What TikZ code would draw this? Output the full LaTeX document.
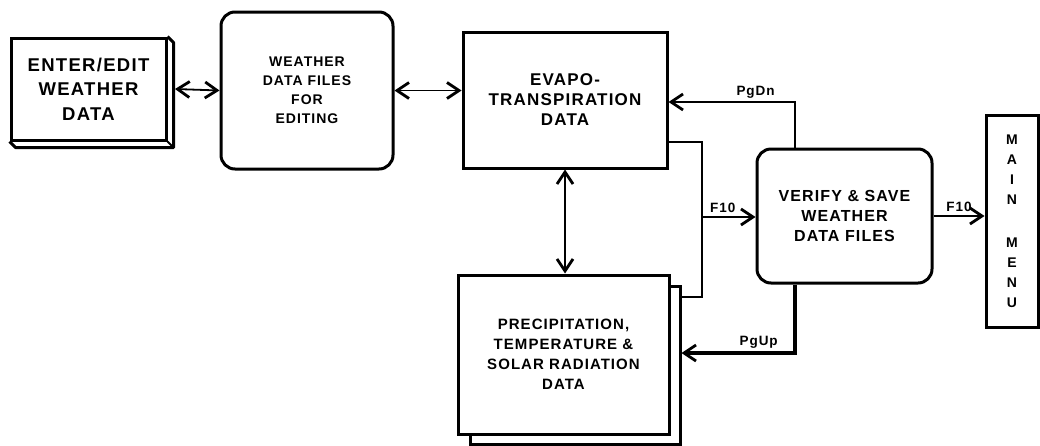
\documentclass[tikz,border=0pt]{standalone}
\usepackage{fontspec}
\setmainfont{Liberation Sans}[LetterSpace=7.0]
\usetikzlibrary{arrows.meta}

\begin{document}
\begin{tikzpicture}[x=1pt, y=-1pt,
  box/.style={draw, line width=3pt, fill=white, inner sep=0pt, align=center},
  rbox/.style={box, rounded corners=14pt},
  lab/.style={font=\fontsize{13.5}{15}\selectfont\bfseries, inner sep=3pt},
  link/.style={line width=1.8pt, >={Straight Barb[length=12pt,width=16pt,line width=2.8pt]}}]
\useasboundingbox (0,0) rectangle (1040,445);
\node[box, minimum width=155, minimum height=102, font=\fontsize{18.5}{24.5}\selectfont\bfseries] (enter) at (88.5,89) {ENTER/EDIT\\WEATHER\\DATA};
\node[rbox, minimum width=172, minimum height=157, font=\fontsize{14}{19}\selectfont\bfseries] (weather) at (307,90.5) {WEATHER\\DATA FILES\\FOR\\EDITING};
\node[box, minimum width=204, minimum height=136, font=\fontsize{17}{20}\selectfont\bfseries] (evapo) at (565,100) {EVAPO-\\TRANSPIRATION\\DATA};
\node[rbox, minimum width=175, minimum height=134, font=\fontsize{16}{20}\selectfont\bfseries] (verify) at (844.5,216) {VERIFY \& SAVE\\WEATHER\\DATA FILES};
\node[box, minimum width=52, minimum height=212, font=\fontsize{14}{20}\selectfont\bfseries] (menu) at (1012,221) {M\\A\\I\\N\\[23pt]M\\E\\N\\U};
\node[box, minimum width=210, minimum height=158] (precipback) at (575,365) {};
\node[box, minimum width=211, minimum height=159, text depth=-12pt, font=\fontsize{15}{20}\selectfont\bfseries] (precip) at (563.5,354.5) {PRECIPITATION,\\TEMPERATURE \&\\SOLAR RADIATION\\DATA};
% 3-D edge of the first box
\draw[line width=3pt, line join=round] (enter.north east) -- ++(6,6) |- ([shift={(6,6)}]enter.south west) -- (enter.south west);
\draw[line width=2pt] (enter.south east) -- ++(6,6);
% Bends:
\coordinate (f10a) at (702,142);
\coordinate (fork) at (702,217);
\coordinate (f10b) at (702,297);
\coordinate (pgdn) at (795,102);
\coordinate (pgup) at (795,353);
\draw[link, <->] ([xshift=7.5pt]enter.east) -- (weather.west);
\draw[link, <->] (weather.east) -- (weather.east -| evapo.west);
\draw[link, <->] (evapo.south) -- (evapo.south |- precip.north);
\draw[link] (evapo.east |- f10a) -- (f10a) -- (f10b) -- (precipback.east |- f10b);
\draw[link, ->] (fork) -- (fork -| verify.west) node[lab, midway, above, xshift=-6pt] {F10};
\draw[link, ->] (pgdn |- verify.north) |- (evapo.east |- pgdn) node[lab, pos=0.656, above] {PgDn};
\draw[link, ->, line width=3.5pt] (pgup |- verify.south) |- (precipback.east |- pgup) node[lab, pos=0.66, above] {PgUp};
\draw[link, ->] (verify.east) -- (menu.west |- verify.east) node[lab, midway, above] {F10};
\end{tikzpicture}
\end{document}
